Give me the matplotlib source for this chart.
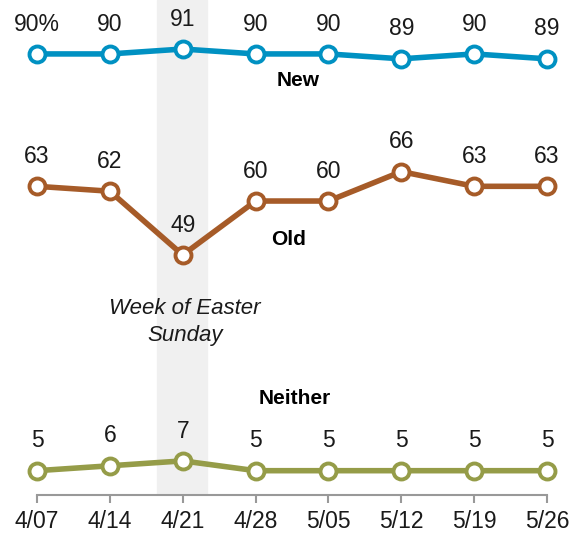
import matplotlib.pyplot as plt
import numpy as np

weeks = ["4/07", "4/14", "4/21", "4/28", "5/05", "5/12", "5/19", "5/26"]
new = [90, 90, 91, 90, 90, 89, 90, 89]
old = [63, 62, 49, 60, 60, 66, 63, 63]
neither = [5, 6, 7, 5, 5, 5, 5, 5]

series = [
    ("New", new, "#0091c2"),
    ("Old", old, "#a65b28"),
    ("Neither", neither, "#959c48"),
]

plt.rcParams['font.family'] = ['Liberation Sans', 'DejaVu Sans']

fig = plt.figure(figsize=(5.81, 5.37), dpi=100)
ax = fig.add_axes([37 / 581, 41.8 / 537, 510 / 581, 1 - 41.8 / 537])

x = np.arange(len(weeks))

# Easter week band
ax.axvspan(1.65, 2.34, color="#f0f0f0", zorder=0)

for name, vals, col in series:
    ax.plot(x, vals, color=col, linewidth=4, marker="o", markersize=11.5,
            markerfacecolor="white", markeredgecolor=col, markeredgewidth=2.8,
            clip_on=False, zorder=3)
    for i, v in enumerate(vals):
        lab = f"{v}%" if (name == "New" and i == 0) else str(v)
        ax.annotate(lab, (x[i], v), xytext=(0, 21.5), textcoords="offset points",
                    ha="center", va="center", fontsize=16.5, color="#1a1a1a")

ax.text(3.58, 84.5, "New", fontsize=15, fontweight="bold", ha="center", va="center")
ax.text(3.45, 52.2, "Old", fontsize=15, fontweight="bold", ha="center", va="center")
ax.text(3.54, 19.8, "Neither", fontsize=15, fontweight="bold", ha="center", va="center")
ax.text(2.03, 35.3, "Week of Easter\nSunday", fontsize=16, style="italic",
        ha="center", va="center", linespacing=1.4, color="#1a1a1a")

ax.set_xlim(0, 7)
ax.set_ylim(0, 101)
ax.set_xticks(x)
ax.set_xticklabels(weeks, fontsize=16.5, color="#1a1a1a")
ax.set_yticks([])
for s in ["top", "right", "left"]:
    ax.spines[s].set_visible(False)
ax.spines["bottom"].set_color("#999999")
ax.spines["bottom"].set_linewidth(1.5)
ax.tick_params(axis="x", length=6, width=1.5, color="#999999", pad=5)

fig.savefig("out.png", dpi=100)
